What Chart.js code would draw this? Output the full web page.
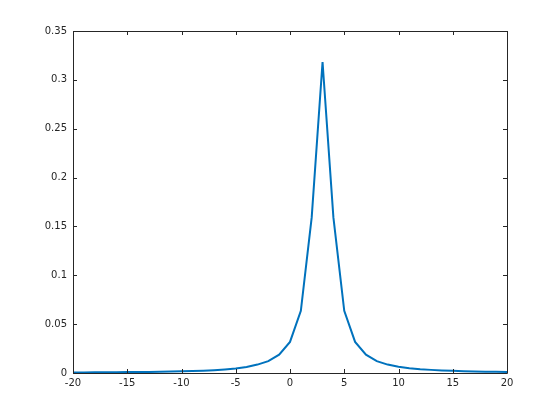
<!DOCTYPE html>
<html>
<head>
<meta charset="utf-8">
<script src="https://cdn.jsdelivr.net/npm/chart.js@4/dist/chart.umd.min.js"></script>
<style>
  html, body { margin: 0; padding: 0; background: #fff; }
  #wrap { width: 560px; height: 420px; position: relative; }
</style>
</head>
<body>
<div id="wrap"><canvas id="chart"></canvas></div>
<script>
  const xValues = [-20, -19, -18, -17, -16, -15, -14, -13, -12, -11, -10, -9, -8, -7, -6, -5, -4, -3, -2, -1,
    0, 1, 2, 3, 4, 5, 6, 7, 8, 9, 10, 11, 12, 13, 14, 15, 16, 17, 18, 19, 20];
  const yValues = [0.0006, 0.00063, 0.00069, 0.00075, 0.00083, 0.00091, 0.0010, 0.0011, 0.0013, 0.0015,
    0.0017, 0.0020, 0.0024, 0.0029, 0.0036, 0.0045, 0.0061, 0.0086, 0.0122, 0.0187,
    0.0318, 0.0637, 0.1592, 0.3183, 0.1592, 0.0637, 0.0318, 0.0187, 0.0122, 0.0086,
    0.0064, 0.0049, 0.0039, 0.0032, 0.0026, 0.0022, 0.0019, 0.0016, 0.0014, 0.0012, 0.0011];
  const xTicks = [-20, -15, -10, -5, 0, 5, 10, 15, 20];
  const yTicks = [0, 0.05, 0.1, 0.15, 0.2, 0.25, 0.3, 0.35];

  const axisColor = '#262626';
  const font = { family: 'DejaVu Sans', size: 10 };

  // box + inward ticks like MATLAB
  const boxPlugin = {
    id: 'box',
    afterDraw(chart) {
      const { ctx, chartArea: a, scales } = chart;
      ctx.save();
      ctx.strokeStyle = axisColor;
      ctx.lineWidth = 1;
      ctx.beginPath();
      ctx.rect(Math.round(a.left) + 0.5, Math.round(a.top) + 0.5,
        Math.round(a.right - a.left), Math.round(a.bottom - a.top));
      xTicks.forEach(v => {
        const px = Math.round(scales.x.getPixelForValue(v)) + 0.5;
        ctx.moveTo(px, a.bottom); ctx.lineTo(px, a.bottom - 4);
        ctx.moveTo(px, a.top); ctx.lineTo(px, a.top + 4);
      });
      yTicks.forEach(v => {
        const py = Math.round(scales.y.getPixelForValue(v)) + 0.5;
        ctx.moveTo(a.left, py); ctx.lineTo(a.left + 4, py);
        ctx.moveTo(a.right, py); ctx.lineTo(a.right - 4, py);
      });
      ctx.stroke();
      ctx.restore();
    }
  };

  new Chart(document.getElementById('chart'), {
    type: 'line',
    data: {
      datasets: [{
        data: xValues.map((x, i) => ({ x: x, y: yValues[i] })),
        borderColor: '#0072BD',
        borderWidth: 2,
        pointRadius: 0,
        tension: 0
      }]
    },
    options: {
      responsive: true,
      maintainAspectRatio: false,
      animation: false,
      layout: { padding: { left: 0, right: 53, top: 31, bottom: 0 } },
      plugins: { legend: { display: false }, tooltip: { enabled: false } },
      scales: {
        x: {
          type: 'linear',
          min: -20, max: 20,
          afterFit: s => { s.height = 47; },
          afterBuildTicks: s => { s.ticks = xTicks.map(v => ({ value: v })); },
          grid: { display: false, drawTicks: false },
          border: { display: false },
          ticks: { color: axisColor, font: font, padding: 4, maxRotation: 0,
            callback: v => String(v) }
        },
        y: {
          min: 0, max: 0.35,
          afterFit: s => { s.width = 73; },
          afterBuildTicks: s => { s.ticks = yTicks.map(v => ({ value: v })); },
          grid: { display: false, drawTicks: false },
          border: { display: false },
          ticks: { color: axisColor, font: font, padding: 6,
            callback: v => String(Math.round(v * 100) / 100) }
        }
      }
    },
    plugins: [boxPlugin]
  });
</script>
</body>
</html>
